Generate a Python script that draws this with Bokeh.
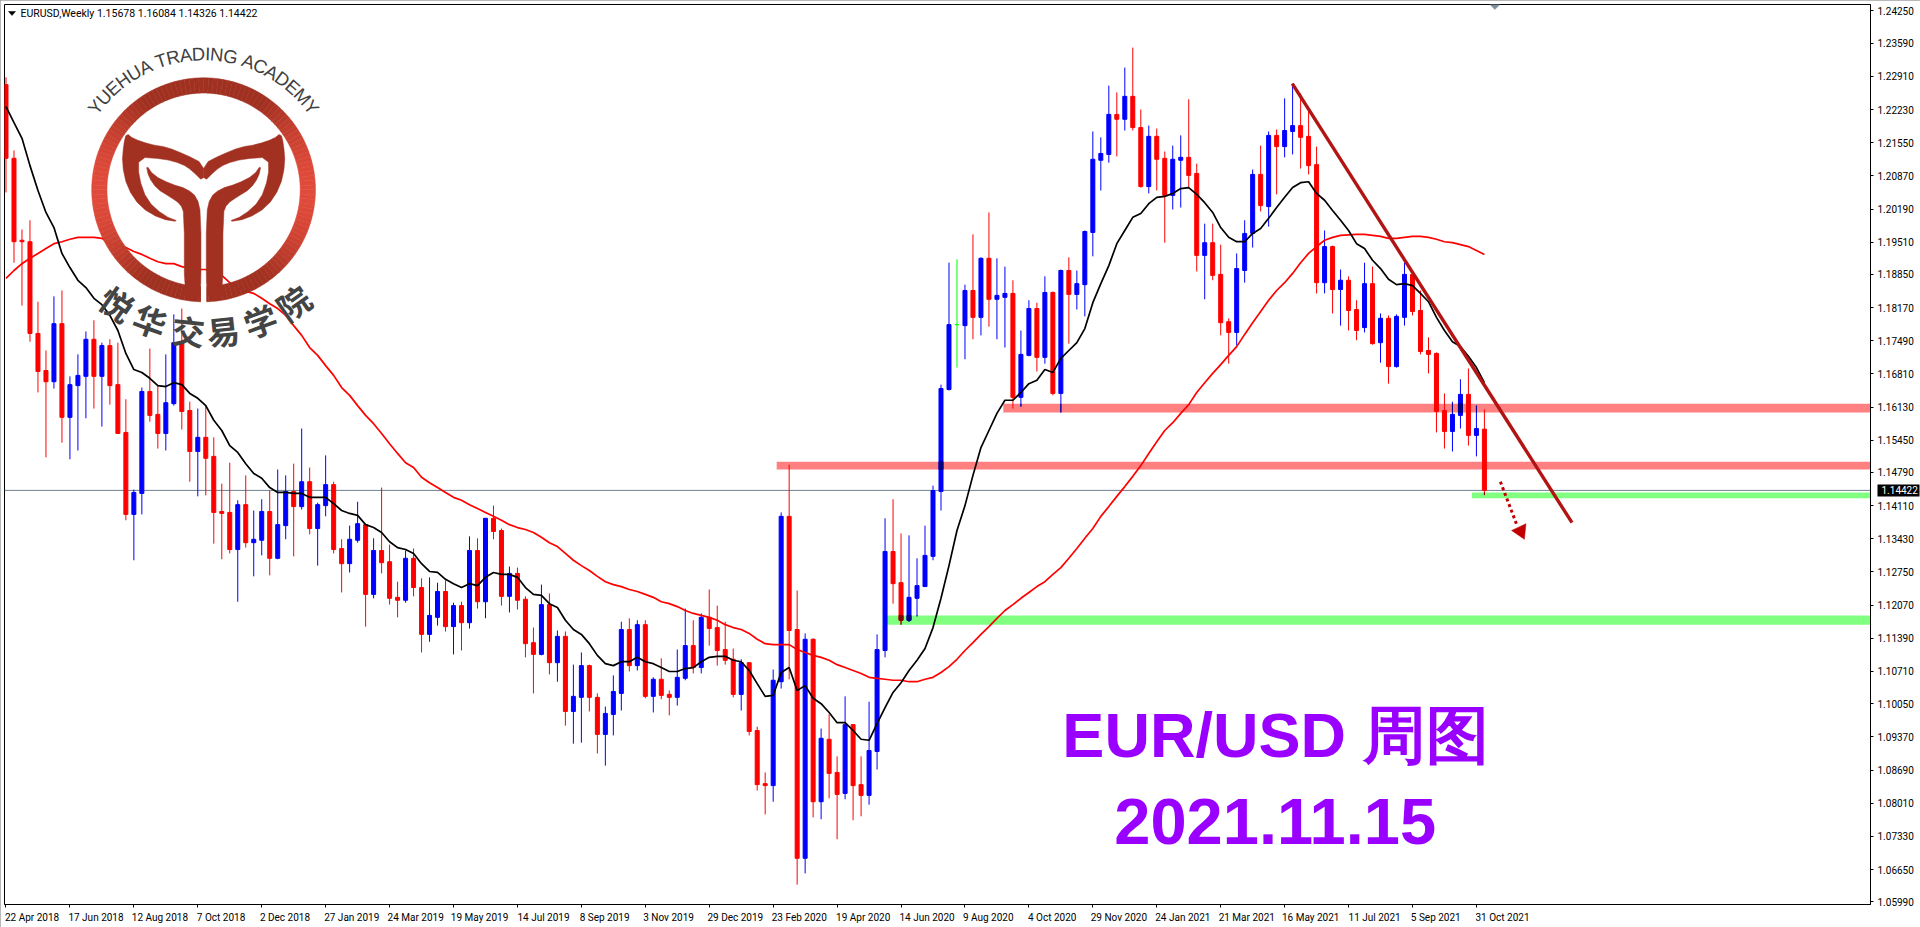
import numpy as np
from bokeh.plotting import figure
from bokeh.embed import file_html
from bokeh.resources import INLINE
from bokeh.core.properties import value
from bokeh.models import (Range1d, FixedTicker, NumeralTickFormatter, Span,
                          ColumnDataSource, LinearAxis)

symbol_header = "EURUSD,Weekly  1.15678 1.16084 1.14326 1.14422"
price_ticks = [1.24250,1.23590,1.22910,1.22230,1.21550,1.20870,1.20190,1.19510,1.18850,1.18170,
               1.17490,1.16810,1.16130,1.15450,1.14790,1.14110,1.13430,1.12750,1.12070,1.11390,
               1.10710,1.10050,1.09370,1.08690,1.08010,1.07330,1.06650,1.05990]
date_labels = ["22 Apr 2018","17 Jun 2018","12 Aug 2018","7 Oct 2018","2 Dec 2018","27 Jan 2019",
               "24 Mar 2019","19 May 2019","14 Jul 2019","8 Sep 2019","3 Nov 2019","29 Dec 2019",
               "23 Feb 2020","19 Apr 2020","14 Jun 2020","9 Aug 2020","4 Oct 2020","29 Nov 2020",
               "24 Jan 2021","21 Mar 2021","16 May 2021","11 Jul 2021","5 Sep 2021","31 Oct 2021"]
date_step = 8

opens = [1.2274,1.2123,1.1955,1.1952,1.1764,1.1688,1.1665,1.1784,1.1592,1.1657,
         1.1676,1.1752,1.1676,1.1739,1.1659,1.1561,1.1393,1.1436,1.1645,1.1598,
         1.1559,1.1620,1.1745,1.1606,1.1522,1.1551,1.1512,1.1399,1.1397,1.1321,
         1.1413,1.1335,1.1340,1.1399,1.1303,1.1370,1.1440,1.1409,1.1460,1.1364,
         1.1411,1.1454,1.1323,1.1292,1.1340,1.1372,1.1229,1.1319,1.1296,1.1223,
         1.1217,1.1303,1.1243,1.1147,1.1182,1.1235,1.1163,1.1206,1.1171,1.1319,
         1.1214,1.1385,1.1360,1.1225,1.1272,1.1219,1.1130,1.1106,1.1208,1.1089,
         1.1143,1.0989,1.1018,1.1083,1.1018,1.0942,1.0983,1.1026,1.1157,1.1083,
         1.1167,1.1020,1.1055,1.1024,1.1018,1.1057,1.1124,1.1079,1.1182,1.1161,
         1.1116,1.1096,1.1024,1.1089,1.0950,1.0841,1.0837,1.1050,1.1389,1.1157,
         1.0688,1.1137,1.0804,1.0932,1.0864,1.0821,1.0962,1.0839,1.0817,1.0907,
         1.1114,1.1317,1.1253,1.1176,1.1221,1.1245,1.1307,1.1440,1.1649,1.1782,
         1.1780,1.1852,1.1797,1.1918,1.1834,1.1838,1.1846,1.1633,1.1719,1.1815,
         1.1715,1.1848,1.1641,1.1893,1.1844,1.1864,1.1971,1.2119,1.2131,1.2213,
         1.2203,1.2250,1.2186,1.2065,1.2168,1.2123,1.2047,1.2119,1.2125,1.2092,
         1.1924,1.1950,1.1885,1.1788,1.1766,1.1893,1.1969,1.2090,1.2024,1.2170,
         1.2147,1.2178,1.2190,1.2168,1.2110,1.1868,1.1942,1.1854,1.1873,1.1813,
         1.1776,1.1866,1.1745,1.1795,1.1696,1.1797,1.1885,1.1811,1.1729,1.1723,
         1.1606,1.1563,1.1596,1.1639,1.1555,1.15678]
closes = [1.2123,1.1952,1.1952,1.1764,1.1686,1.1665,1.1784,1.1592,1.1659,1.1678,
          1.1752,1.1676,1.1739,1.1657,1.1559,1.1393,1.1438,1.1645,1.1596,1.1559,
          1.1622,1.1745,1.1604,1.1522,1.1551,1.1508,1.1397,1.1395,1.1321,1.1413,
          1.1335,1.1342,1.1399,1.1303,1.1372,1.1440,1.1409,1.1460,1.1364,1.1413,
          1.1454,1.1321,1.1292,1.1342,1.1374,1.1229,1.1319,1.1294,1.1221,1.1217,
          1.1303,1.1243,1.1147,1.1186,1.1235,1.1163,1.1206,1.1171,1.1319,1.1214,
          1.1385,1.1358,1.1225,1.1272,1.1217,1.1128,1.1106,1.1208,1.1089,1.1143,
          1.0989,1.1020,1.1083,1.1018,1.0942,1.0985,1.1030,1.1157,1.1083,1.1167,
          1.1020,1.1055,1.1022,1.1018,1.1059,1.1124,1.1079,1.1182,1.1159,1.1114,
          1.1094,1.1024,1.1089,1.0948,1.0839,1.0837,1.1053,1.1389,1.1155,1.0688,
          1.1137,1.0804,1.0934,1.0862,1.0819,1.0962,1.0837,1.0817,1.0909,1.1116,
          1.1317,1.1251,1.1176,1.1223,1.1247,1.1309,1.1442,1.1651,1.1782,1.1782,
          1.1852,1.1797,1.1918,1.1834,1.1842,1.1846,1.1633,1.1721,1.1815,1.1715,
          1.1848,1.1641,1.1893,1.1844,1.1866,1.1973,1.2121,1.2133,1.2213,1.2203,
          1.2250,1.2186,1.2065,1.2168,1.2121,1.2047,1.2121,1.2125,1.2088,1.1924,
          1.1950,1.1883,1.1786,1.1766,1.1897,1.1969,1.2090,1.2026,1.2170,1.2147,
          1.2180,1.2190,1.2166,1.2108,1.1868,1.1942,1.1854,1.1873,1.1811,1.1770,
          1.1866,1.1743,1.1795,1.1696,1.1799,1.1885,1.1809,1.1727,1.1721,1.1604,
          1.1563,1.1598,1.1639,1.1555,1.1569,1.14422]
highs = [1.2289,1.2139,1.1977,1.1996,1.1829,1.1729,1.1840,1.1852,1.1676,1.1721,
         1.1768,1.1791,1.1745,1.1752,1.1745,1.1629,1.1444,1.1653,1.1733,1.1657,
         1.1721,1.1803,1.1815,1.1624,1.1610,1.1616,1.1551,1.1456,1.1499,1.1422,
         1.1473,1.1401,1.1424,1.1442,1.1485,1.1473,1.1497,1.1569,1.1489,1.1417,
         1.1514,1.1460,1.1342,1.1370,1.1419,1.1374,1.1344,1.1448,1.1331,1.1255,
         1.1319,1.1323,1.1262,1.1264,1.1253,1.1258,1.1212,1.1214,1.1348,1.1344,
         1.1385,1.1411,1.1364,1.1286,1.1284,1.1225,1.1161,1.1249,1.1231,1.1155,
         1.1153,1.1085,1.1110,1.1085,1.1026,1.0999,1.1063,1.1173,1.1180,1.1176,
         1.1176,1.1059,1.1098,1.1032,1.1116,1.1200,1.1176,1.1190,1.1239,1.1206,
         1.1173,1.1118,1.1096,1.1089,1.0958,1.0864,1.1075,1.1397,1.1495,1.1237,
         1.1149,1.1139,1.0954,1.0983,1.0897,1.1020,1.0962,1.0897,1.1009,1.1147,
         1.1385,1.1424,1.1354,1.1350,1.1303,1.1370,1.1452,1.1659,1.1909,1.1916,
         1.1864,1.1967,1.1920,1.2012,1.1918,1.1901,1.1873,1.1770,1.1832,1.1827,
         1.1881,1.1850,1.1895,1.1920,1.1893,1.1975,1.2178,1.2166,1.2272,1.2258,
         1.2309,1.2350,1.2223,1.2190,1.2184,1.2137,1.2149,1.2170,1.2244,1.2112,
         1.1989,1.1989,1.1946,1.1795,1.1928,1.1996,1.2100,1.2149,1.2178,1.2182,
         1.2246,1.2276,1.2256,1.2221,1.2147,1.1975,1.1944,1.1895,1.1881,1.1832,
         1.1909,1.1901,1.1805,1.1801,1.1803,1.1909,1.1893,1.1852,1.1756,1.1725,
         1.1641,1.1624,1.1670,1.1692,1.1616,1.16084]
lows = [1.2053,1.1909,1.1821,1.1747,1.1643,1.1510,1.1651,1.1540,1.1506,1.1524,
        1.1590,1.1610,1.1573,1.1618,1.1559,1.1381,1.1299,1.1393,1.1583,1.1528,
        1.1524,1.1616,1.1567,1.1460,1.1430,1.1432,1.1333,1.1301,1.1313,1.1214,
        1.1325,1.1266,1.1309,1.1268,1.1301,1.1342,1.1307,1.1403,1.1352,1.1288,
        1.1389,1.1313,1.1233,1.1274,1.1335,1.1163,1.1221,1.1272,1.1208,1.1182,
        1.1212,1.1225,1.1110,1.1132,1.1165,1.1153,1.1106,1.1114,1.1159,1.1200,
        1.1180,1.1342,1.1206,1.1192,1.1198,1.1100,1.1026,1.1104,1.1065,1.1050,
        1.0960,1.0923,1.0925,1.0989,1.0903,1.0878,1.0940,1.0991,1.1071,1.1073,
        1.1016,1.0987,1.1014,1.0981,1.1001,1.1053,1.1067,1.1067,1.1124,1.1083,
        1.1085,1.1018,1.0991,1.0940,1.0827,1.0778,1.0804,1.1036,1.1055,1.0634,
        1.0657,1.0772,1.0768,1.0811,1.0727,1.0809,1.0766,1.0774,1.0798,1.0870,
        1.1100,1.1210,1.1167,1.1173,1.1184,1.1245,1.1299,1.1401,1.1647,1.1694,
        1.1711,1.1752,1.1760,1.1778,1.1752,1.1735,1.1610,1.1614,1.1717,1.1686,
        1.1702,1.1637,1.1602,1.1743,1.1813,1.1799,1.1922,1.2057,1.2114,1.2127,
        1.2180,1.2180,1.2063,1.2051,1.2057,1.1950,1.2018,1.2022,1.2063,1.1891,
        1.1834,1.1873,1.1760,1.1702,1.1739,1.1868,1.1940,1.2014,1.1983,1.2049,
        1.2125,1.2131,1.2102,1.2090,1.1846,1.1846,1.1805,1.1780,1.1770,1.1750,
        1.1766,1.1741,1.1704,1.1661,1.1694,1.1780,1.1801,1.1721,1.1682,1.1561,
        1.1528,1.1522,1.1569,1.1534,1.1512,1.14326]
ma_black = [1.2229,1.2196,1.2164,1.2108,1.2057,1.2012,1.1981,1.1928,1.1899,1.1873,
            1.1858,1.1836,1.1823,1.1801,1.1770,1.1723,1.1690,1.1684,1.1672,1.1657,
            1.1655,1.1663,1.1659,1.1641,1.1631,1.1616,1.1586,1.1565,1.1534,1.1520,
            1.1497,1.1477,1.1467,1.1448,1.1438,1.1438,1.1436,1.1436,1.1428,1.1428,
            1.1428,1.1415,1.1401,1.1395,1.1391,1.1372,1.1366,1.1356,1.1337,1.1325,
            1.1321,1.1313,1.1292,1.1276,1.1274,1.1260,1.1251,1.1243,1.1251,1.1247,
            1.1264,1.1274,1.1270,1.1270,1.1264,1.1243,1.1229,1.1227,1.1210,1.1202,
            1.1176,1.1157,1.1147,1.1128,1.1104,1.1087,1.1083,1.1091,1.1091,1.1100,
            1.1091,1.1087,1.1079,1.1071,1.1071,1.1077,1.1079,1.1091,1.1100,1.1102,
            1.1102,1.1094,1.1091,1.1073,1.1046,1.1020,1.1022,1.1069,1.1079,1.1032,
            1.1042,1.1016,1.1005,1.0987,1.0966,1.0966,1.0950,1.0932,1.0930,1.0964,
            1.0997,1.1028,1.1048,1.1073,1.1094,1.1118,1.1161,1.1221,1.1288,1.1360,
            1.1411,1.1473,1.1530,1.1565,1.1600,1.1627,1.1627,1.1643,1.1661,1.1668,
            1.1690,1.1684,1.1713,1.1729,1.1745,1.1774,1.1827,1.1866,1.1903,1.1948,
            1.1975,1.2002,1.2010,1.2030,1.2043,1.2045,1.2051,1.2061,1.2063,1.2049,
            1.2032,1.2012,1.1981,1.1961,1.1952,1.1952,1.1969,1.1979,1.2000,1.2022,
            1.2043,1.2063,1.2073,1.2075,1.2051,1.2037,1.2016,1.1996,1.1975,1.1948,
            1.1938,1.1914,1.1897,1.1875,1.1864,1.1866,1.1862,1.1846,1.1829,1.1797,
            1.1770,1.1747,1.1737,1.1717,1.1694,1.1663]
ma_red = [1.1877,1.1893,1.1907,1.1918,1.1928,1.1938,1.1948,1.1952,1.1957,1.1961,
          1.1961,1.1961,1.1959,1.1948,1.1944,1.1940,1.1932,1.1926,1.1918,1.1911,
          1.1907,1.1907,1.1901,1.1897,1.1895,1.1895,1.1889,1.1883,1.1868,1.1858,
          1.1850,1.1846,1.1836,1.1825,1.1815,1.1801,1.1780,1.1760,1.1735,1.1719,
          1.1698,1.1678,1.1653,1.1637,1.1616,1.1596,1.1579,1.1559,1.1538,1.1518,
          1.1499,1.1489,1.1469,1.1458,1.1448,1.1438,1.1428,1.1422,1.1413,1.1405,
          1.1397,1.1389,1.1381,1.1372,1.1366,1.1362,1.1356,1.1346,1.1335,1.1327,
          1.1313,1.1299,1.1288,1.1278,1.1266,1.1255,1.1249,1.1245,1.1239,1.1235,
          1.1229,1.1223,1.1214,1.1210,1.1204,1.1196,1.1190,1.1186,1.1182,1.1176,
          1.1167,1.1161,1.1157,1.1149,1.1137,1.1128,1.1126,1.1126,1.1126,1.1116,
          1.1110,1.1104,1.1100,1.1094,1.1085,1.1079,1.1073,1.1067,1.1059,1.1057,
          1.1055,1.1053,1.1053,1.1050,1.1050,1.1055,1.1059,1.1069,1.1081,1.1096,
          1.1114,1.1130,1.1147,1.1163,1.1180,1.1196,1.1208,1.1221,1.1233,1.1245,
          1.1255,1.1270,1.1284,1.1303,1.1323,1.1344,1.1364,1.1389,1.1409,1.1430,
          1.1450,1.1471,1.1493,1.1518,1.1542,1.1565,1.1581,1.1600,1.1618,1.1643,
          1.1663,1.1682,1.1700,1.1719,1.1737,1.1762,1.1786,1.1809,1.1832,1.1852,
          1.1868,1.1887,1.1909,1.1928,1.1942,1.1955,1.1961,1.1965,1.1966,1.1967,
          1.1967,1.1965,1.1963,1.1959,1.1959,1.1961,1.1963,1.1963,1.1961,1.1957,
          1.1952,1.1950,1.1946,1.1942,1.1934,1.1926]
last_price = 1.14422
# horizontal zones: start bar, top price, bottom price, colour
zone_start = [124.8, 96.44, 110.2, 183.44]
zone_top = [1.1620, 1.1501, 1.1186, 1.1438]
zone_bottom = [1.1602, 1.1485, 1.1167, 1.1426]
zone_color = ["#FF8080", "#FF8080", "#80FF80", "#80FF80"]
trend_x = [160.96, 195.96]
trend_y = [1.2276, 1.1376]
arrow_x = [187.0, 189.0]
arrow_y = [1.1460, 1.1374]
arrow_head_x = [190.0, 188.4, 190.2]
arrow_head_y = [1.1342, 1.1360, 1.1374]

W, H = 1920, 927
F_L, F_R, F_T, F_B = 4, 1872, 4, 904
X0, XK = 5.5, 8.0
P0, PK = 1.24465, 0.000205
def X(px): return (np.asarray(px, dtype=float) - X0) / XK
def Y(py): return P0 - PK * np.asarray(py, dtype=float)

p = figure(width=W, height=H, output_backend="svg", toolbar_location=None,
           x_range=Range1d(float(X(F_L)), float(X(F_R))), y_range=Range1d(float(Y(F_B)), float(Y(F_T))),
           y_axis_location="right", min_border_left=F_L, min_border_right=W-F_R,
           min_border_top=F_T, min_border_bottom=H-F_B,
           background_fill_color="white", border_fill_color="white", outline_line_color="black")
p.grid.visible = False
# window edges around the chart
p.styles = {"box-shadow": "inset 2px 2px 0 #A0A0A0"}

FONT = "Roboto"
ax = p.yaxis[0]
ax.ticker = FixedTicker(ticks=price_ticks, minor_ticks=[])
ax.formatter = NumeralTickFormatter(format="0.00000")
ax.major_tick_in = 0; ax.major_tick_out = 3; ax.major_tick_line_color = "black"
ax.axis_line_color = "black"; ax.major_label_standoff = 4
ax.major_label_text_font = FONT; ax.major_label_text_font_size = "10px"; ax.major_label_text_color = "black"

# black tag with the last price, an axis of its own laid over the price scale
tag = LinearAxis(ticker=FixedTicker(ticks=[last_price], minor_ticks=[]),
                 formatter=NumeralTickFormatter(format="0.00000"),
                 axis_line_color=None, major_tick_line_color="black", major_tick_line_width=12,
                 major_tick_in=39, major_tick_out=3, major_label_standoff=-38,
                 major_label_text_color="white", major_label_text_font=FONT,
                 major_label_text_font_size="10px")
p.add_layout(tag, "right")

n = len(opens)
idx = np.arange(n)
date_ticks = [int(i * date_step) for i in range(len(date_labels))]
bx = p.xaxis[0]
bx.ticker = FixedTicker(ticks=date_ticks, minor_ticks=[])
bx.major_label_overrides = {t: " " for t in date_ticks}
bx.major_tick_in = 0; bx.major_tick_out = 3; bx.major_tick_line_color = "black"; bx.axis_line_color = "black"
bx.major_label_text_font_size = "1px"; bx.major_label_standoff = 0

# date labels start at their tick: an axis without marks, its labels placed half a label to the right
def label_width(t):
    wd = {" ": 2.5, "1": 5.6}
    return sum(wd.get(ch, 5.6 if ch.isdigit() else 5.2) for ch in t)
label_pos = [round(t + (label_width(s) / 2 - 1.0) / XK, 4) for t, s in zip(date_ticks, date_labels)]
lx = LinearAxis(ticker=FixedTicker(ticks=label_pos, minor_ticks=[]),
                major_label_overrides=dict(zip(label_pos, date_labels)),
                axis_line_color=None, major_tick_line_color=None, major_tick_in=0, major_tick_out=0,
                major_label_standoff=0, major_label_text_font=FONT, major_label_text_font_size="10px",
                major_label_text_color="black")
p.add_layout(lx, "below")

# last price line
p.add_layout(Span(location=last_price, dimension="width", line_color="#708090", line_width=1, level="underlay"))

# zones
x_end = float(X(F_R))
p.quad(left=zone_start, right=[x_end] * 4, top=zone_top, bottom=zone_bottom, fill_color=zone_color,
       line_color=None, level="underlay")

# candles
o, h, l, c = map(np.array, (opens, highs, lows, closes))
colors = ["#0000FF" if c[i] > o[i] else ("#FF0000" if c[i] < o[i] else "#00FF00") for i in idx]
p.segment(x0=idx, x1=idx, y0=l, y1=h, line_color=colors, line_width=1)
hw = 2.0 / XK
p.quad(left=idx - hw, right=idx + hw, top=np.maximum(o, c), bottom=np.minimum(o, c),
       fill_color=colors, line_color=colors, line_width=1)

# candle parts seen through the translucent zones
ol, ob, ot, oc = [], [], [], []
wx, wb, wt, wc = [], [], [], []
for zs, zt, zb, zc in zip(zone_start, zone_top, zone_bottom, zone_color):
    for i in idx:
        if i < zs:
            continue
        dark = {"#0000FF": "#000080"}.get(colors[i]) if zc == "#FF8080" else \
               {"#0000FF": "#000080", "#FF0000": "#800000"}.get(colors[i])
        if dark is None:
            continue
        t, b = min(zt, max(o[i], c[i])), max(zb, min(o[i], c[i]))
        if t > b:
            ol.append(i); ot.append(t); ob.append(b); oc.append(dark)
        t, b = min(zt, h[i]), max(zb, l[i])
        if t > b:
            wx.append(i); wt.append(t); wb.append(b); wc.append(dark)
if wx:
    p.segment(x0=wx, x1=wx, y0=wb, y1=wt, line_color=wc, line_width=1)
if ol:
    ol = np.array(ol)
    p.quad(left=ol - hw, right=ol + hw, top=ot, bottom=ob, fill_color=oc, line_color=oc, line_width=1)

# moving averages
p.line(idx, ma_red, line_color="#FF0000", line_width=1.7)
p.line(idx, ma_black, line_color="#000000", line_width=1.7)

# trend line and arrow
p.line(trend_x, trend_y, line_color="#B21414", line_width=3.4)
p.line(arrow_x, arrow_y, line_color="#C00000", line_width=3, line_dash="3 3")
p.patch(arrow_head_x, arrow_head_y, fill_color="#C00000", line_color="#C00000", line_width=0.5)

# header
p.patch(X([8, 15, 11.5]), Y([11, 11, 15]), fill_color="black", line_color="black", line_width=0.5)
p.text([float(X(20))], [float(Y(12.5))], text=[symbol_header], text_font=value(FONT), text_font_size="10.5px",
       text_color="black", text_baseline="middle", text_align="left")
# shift marker at the top
p.patch(X([1491, 1501, 1496]), Y([4, 4, 9]), fill_color="#7E8FA0", line_color="#7E8FA0", line_width=0.5)

# big titles
p.text([float(X(1063))], [float(Y(734))], text=["EUR/USD 周图"], text_font=value("Liberation Sans"),
       text_font_style="bold", text_font_size="63px", text_color="#9900FF", text_align="left",
       text_baseline="alphabetic")
p.text([float(X(1115))], [float(Y(821))], text=["2021.11.15"], text_font=value("Liberation Sans"),
       text_font_style="bold", text_font_size="65px", text_color="#9900FF", text_align="left",
       text_baseline="alphabetic")

# ---- logo (drawn on top) ----
CX, CY, RO, RI = 203.3, 189.3, 112.0, 96.7
N = 144
th = np.linspace(0, 2 * np.pi, N + 1)
xs, ys, cs = [], [], []
for a, b in zip(th[:-1], th[1:]):
    t = np.linspace(a, b, 3)
    px = np.r_[CX + RO * np.cos(t), CX + RI * np.cos(t[::-1])]
    py = np.r_[CY + RO * np.sin(t), CY + RI * np.sin(t[::-1])]
    k = abs(np.cos((a + b) / 2))
    m = max(0.0, (k - 0.55) / 0.45) ** 1.2
    col = tuple(int(round(u + (v - u) * m)) for u, v in zip((160, 48, 32), (224, 74, 58)))
    xs.append(X(px)); ys.append(Y(py)); cs.append("#%02X%02X%02X" % col)
p.patches(xs, ys, fill_color=cs, line_color=cs, line_width=0.5)

def chaikin(pts, n=1):
    pts = np.array(pts, dtype=float)
    for _ in range(n):
        q = np.roll(pts, -1, axis=0)
        pts = np.vstack([np.c_[0.75 * pts + 0.25 * q], np.c_[0.25 * pts + 0.75 * q]])[
            np.argsort(np.r_[np.arange(len(pts)) * 2, np.arange(len(pts)) * 2 + 1])]
    return pts

big_leaf = [(378,398),(400,415),(450,432),(500,440),(555,462),(610,490),(610,545),(575,510),(545,490),
            (490,475),(415,470),(415,530),(440,600),(490,645),(540,665),(480,655),(420,620),(380,560),
            (365,490),(370,430)]
inner_leaf = [(437,492),(460,525),(510,550),(560,565),(590,590),(602,640),(602,870),(598,885),(570,902),
              (552,880),(552,640),(540,610),(510,590),(470,565),(445,530)]
for shape in (big_leaf, inner_leaf):
    q = chaikin(shape, 1)
    for mirror in (False, True):
        zx = q[:, 0] if not mirror else 1220 - q[:, 0]
        p.patch(X(zx / 3), Y(q[:, 1] / 3), fill_color="#A33122", line_color="#A33122", line_width=0.5)
# slit under the stem
p.patch(X(np.array([602, 618, 618, 602]) / 3), Y(np.array([850, 850, 908, 908]) / 3),
        fill_color="white", line_color=None)

# arc texts
arc_text = "YUEHUA TRADING ACADEMY"
adv = dict(Y=.667, U=.722, E=.667, H=.722, A=.667, T=.611, R=.722, D=.722, I=.278, N=.722, G=.778, C=.722, M=.833)
adv[" "] = .278
w = np.array([adv[ch] for ch in arc_text])
cen = np.cumsum(w) - w / 2
FS, RT = 18.5, 136.0
s = (cen - w.sum() / 2) * FS / RT
p.text(X(CX + RT * np.sin(s)), Y(CY - RT * np.cos(s)), text=list(arc_text), angle=-s,
       text_font=value("Liberation Sans"), text_font_size="18.5px", text_color="#404040",
       text_align="center", text_baseline="middle")

cn_chars = list("悦华交易学院")
cn_x = [117, 150, 188, 223, 260, 293]
cn_y = [303, 320, 330, 330, 320, 302]
cn_a = np.radians([-35, -20, -6, 6, 20, 35])
p.text(X(cn_x), Y(cn_y), text=cn_chars, angle=cn_a, text_font=value("Noto Sans CJK SC"),
       text_font_style="bold", text_font_size="33px", text_color="#444444",
       text_align="center", text_baseline="middle")

open("out.html", "w").write(file_html(p, INLINE))
